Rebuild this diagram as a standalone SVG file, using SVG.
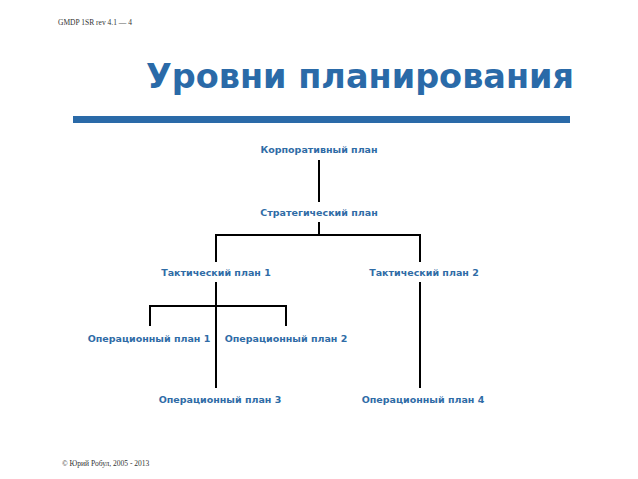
<svg xmlns="http://www.w3.org/2000/svg" width="638" height="479" viewBox="0 0 638 479">
<style>
.n{font-family:"DejaVu Sans",Verdana,sans-serif;font-size:9.5px;font-weight:bold;fill:#2f6ca6;text-anchor:middle}
.s{font-family:"Liberation Serif",serif;font-size:7.5px;fill:#333}
.c{stroke:#000;stroke-width:2;fill:none}
</style>
<rect width="638" height="479" fill="#fff"/>
<text class="s" x="58" y="25">GMDP 1SR rev 4.1 —  4</text>
<text x="360" y="88" font-family="DejaVu Sans,Verdana,sans-serif" font-size="33.5" font-weight="bold" fill="#2a6aa8" text-anchor="middle">Уровни планирования</text>
<rect x="73" y="116" width="497" height="7" fill="#2a6aa8"/>
<g id="connectors">
<path class="c" d="M319 160V202M319 222V235M216 235H420M216 234V262M420 234V262M216 282V388M150 306H286M150 305V326M286 305V326M420 282V388"/>
</g>
<g id="corp"><text class="n" x="319" y="153">Корпоративный план</text></g>
<g id="strat"><text class="n" x="319" y="216">Стратегический план</text></g>
<g id="tact1"><text class="n" x="216" y="276">Тактический план 1</text></g>
<g id="tact2"><text class="n" x="424" y="276">Тактический план 2</text></g>
<g id="op1"><text class="n" x="149" y="342">Операционный план 1</text></g>
<g id="op2"><text class="n" x="286" y="342">Операционный план 2</text></g>
<g id="op3"><text class="n" x="220" y="403">Операционный план 3</text></g>
<g id="op4"><text class="n" x="423" y="403">Операционный план 4</text></g>
<text class="s" x="62" y="466">© Юрий Робул, 2005 - 2013</text>
</svg>
